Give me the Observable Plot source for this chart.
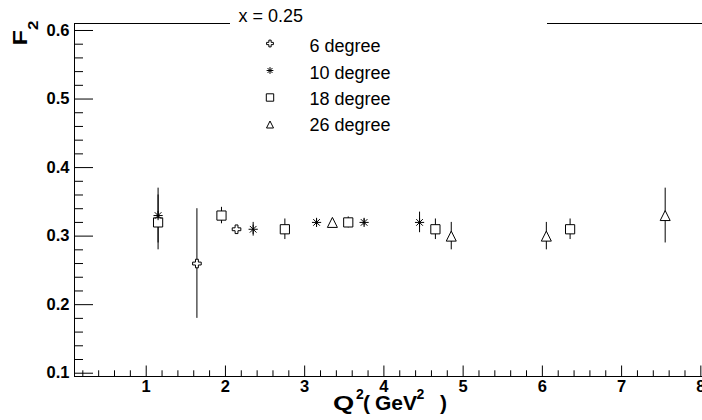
<!DOCTYPE html>
<html><head><meta charset="utf-8">
<script src="https://cdn.jsdelivr.net/npm/d3@7"></script>
<script src="https://cdn.jsdelivr.net/npm/@observablehq/plot@0.6"></script>
<style>
body{margin:0;background:#fff}
#wrap{position:relative;width:702px;height:420px;overflow:hidden}
#wrap svg{position:absolute;left:0;top:0}
g[aria-label="legend-text"] text{letter-spacing:1.2px}
</style></head><body><div id="wrap"></div>
<script>
// ---- data ----
const seriesNames = ["6 degree", "10 degree", "18 degree", "26 degree"];
const legendTitle = "x = 0.25";
const q2_6 = [1.64, 2.14];
const f2_6 = [0.26, 0.31];
const err_6 = [0.08, 0.004];
const q2_10 = [1.15, 2.35, 3.15, 3.75, 4.45];
const f2_10 = [0.33, 0.31, 0.32, 0.32, 0.32];
const err_10 = [0.04, 0.01, 0.005, 0.005, 0.015];
const q2_18 = [1.15, 1.95, 2.75, 3.55, 4.65, 6.35];
const f2_18 = [0.32, 0.33, 0.31, 0.32, 0.31, 0.31];
const err_18 = [0.04, 0.012, 0.015, 0.008, 0.015, 0.015];
const q2_26 = [3.35, 4.85, 6.05, 7.55];
const f2_26 = [0.32, 0.30, 0.30, 0.33];
const err_26 = [0.005, 0.02, 0.02, 0.04];
const xTickLabels = [1, 2, 3, 4, 5, 6, 7, 8];
const yTickLabels = [0.1, 0.2, 0.3, 0.4, 0.5, 0.6];

// ---- table ----
const groups = [[q2_6, f2_6, err_6], [q2_10, f2_10, err_10], [q2_18, f2_18, err_18], [q2_26, f2_26, err_26]];
const rows = groups.flatMap(([q, f, e], s) => q.map((v, i) => ({series: seriesNames[s], q2: v, f2: f[i], err: e[i]})));

// ---- symbols ----
const hw = size => Math.sqrt(size / Math.PI);
const crossOpen = {draw(c, size) { const h = hw(size), a = h / 3;
  c.moveTo(-a, -h); c.lineTo(a, -h); c.lineTo(a, -a); c.lineTo(h, -a); c.lineTo(h, a); c.lineTo(a, a);
  c.lineTo(a, h); c.lineTo(-a, h); c.lineTo(-a, a); c.lineTo(-h, a); c.lineTo(-h, -a); c.lineTo(-a, -a); c.closePath(); }};
const star8 = {draw(c, size) { const h = hw(size), d = h * 0.72;
  c.moveTo(-h, 0); c.lineTo(h, 0); c.moveTo(0, -h); c.lineTo(0, h);
  c.moveTo(-d, -d); c.lineTo(d, d); c.moveTo(-d, d); c.lineTo(d, -d); }};
const squareOpen = {draw(c, size) { const h = hw(size); c.rect(-h, -h, 2 * h, 2 * h); }};
const triOpen = {draw(c, size) { const h = hw(size); c.moveTo(0, -h); c.lineTo(h, h); c.lineTo(-h, h); c.closePath(); }};
const styles = [
  {symbol: crossOpen, r: 4.3, fill: "white", lr: 3.4},
  {symbol: star8, r: 4.6, fill: "none", lr: 3.4},
  {symbol: squareOpen, r: 4.6, fill: "white", lr: 3.7},
  {symbol: triOpen, r: 5, fill: "white", lr: 3.5}
];

const W = 702, H = 420, mL = 74, mR = 0, mT = 23, mB = 44;
const frameW = W - mL - mR, frameH = H - mT - mB;
const xDomain = [0.095, 8.021], yDomain = [0.0952, 0.6102];
const xMinor = d3.range(1, 40).filter(i => i % 5 !== 0).map(i => i / 5);
const yMinor = d3.range(6, 30).filter(i => i % 5 !== 0).map(i => i / 50);

const drawOrder = [2, 3, 0, 1];
const marks = [
  Plot.ruleX([xDomain[0]], {stroke: "black"}),
  Plot.ruleY([yDomain[0]], {stroke: "black"}),
  Plot.ruleY([yDomain[1]], {stroke: "black", insetRight: W - mR - 230}),
  Plot.ruleY([yDomain[1]], {stroke: "black", insetLeft: 547 - mL}),
  Plot.ruleX(xTickLabels, {stroke: "black", insetTop: frameH - 10.5}),
  Plot.ruleX(xMinor, {stroke: "black", insetTop: frameH - 5.7}),
  Plot.ruleY(yTickLabels, {stroke: "black", insetRight: frameW - 19}),
  Plot.ruleY(yMinor, {stroke: "black", insetRight: frameW - 9}),
  Plot.axisX({ticks: xTickLabels, tickSize: 0, tickPadding: 4, label: null, tickFormat: d => String(d)}),
  Plot.axisY({ticks: yTickLabels, tickSize: 0, tickPadding: 5, label: null, tickFormat: d3.format(".1f")}),
  Plot.ruleX(rows, {x: "q2", y1: d => d.f2 - d.err, y2: d => d.f2 + d.err, stroke: "black", strokeWidth: 1}),
  ...drawOrder.map(s => Plot.dot(rows.filter(d => d.series === seriesNames[s]),
    {x: "q2", y: "f2", symbol: styles[s].symbol, r: styles[s].r, stroke: "black", strokeWidth: 1, fill: styles[s].fill})),
  Plot.text([legendTitle], {frameAnchor: "top-left", dx: 164, dy: -7.5, textAnchor: "start", lineAnchor: "middle",
    fontSize: 18, fontWeight: "normal", fill: "black", ariaLabel: "legend-text"}),
  ...seriesNames.map((name, i) => Plot.dot([name], {frameAnchor: "top-left", dx: 195.5, dy: 20 + i * 27,
    symbol: styles[i].symbol, r: styles[i].lr, stroke: "black", strokeWidth: 1, fill: styles[i].fill})),
  ...seriesNames.map((name, i) => Plot.text([name], {text: d => d, frameAnchor: "top-left", dx: 235, dy: 23 + i * 26.4,
    textAnchor: "start", lineAnchor: "middle", fontSize: 18, fontWeight: "normal", fill: "black", ariaLabel: "legend-text"}))
];

const chart = Plot.plot({
  width: W, height: H, marginLeft: mL, marginRight: mR, marginTop: mT, marginBottom: mB,
  x: {domain: xDomain}, y: {domain: yDomain},
  style: {fontFamily: "'Liberation Sans', Arial, sans-serif", fontSize: "16.5px", fontWeight: "bold", color: "black", background: "white"},
  marks
});
const wrap = document.getElementById("wrap");
wrap.appendChild(chart);

// axis titles overlay
const ov = d3.select(wrap).append("svg").attr("width", W).attr("height", H)
  .style("font-family", "'Liberation Sans', Arial, sans-serif").style("font-weight", "bold").style("pointer-events", "none");
ov.append("text").attr("font-size", 21).attr("fill", "black")
  .attr("transform", "translate(333,409.5) scale(1.3,1)").text("Q");
const xt = ov.append("text").attr("font-size", 21).attr("fill", "black").attr("y", 409.5);
xt.append("tspan").attr("x", 356).attr("y", 398.5).attr("font-size", 14).text("2");
xt.append("tspan").attr("x", 363).attr("y", 409.5).text("(");
xt.append("tspan").attr("x", 375).text("GeV");
xt.append("tspan").attr("x", 416.5).attr("y", 398.5).attr("font-size", 14).text("2");
xt.append("tspan").attr("x", 440).attr("y", 409.5).text(")");
const yt = ov.append("text").attr("font-size", 21).attr("fill", "black").attr("transform", "translate(27,45.5) rotate(-90) scale(1.2,1)");
yt.append("tspan").text("F");
yt.append("tspan").attr("dy", 11).attr("font-size", 14).text("2");
</script></body></html>
